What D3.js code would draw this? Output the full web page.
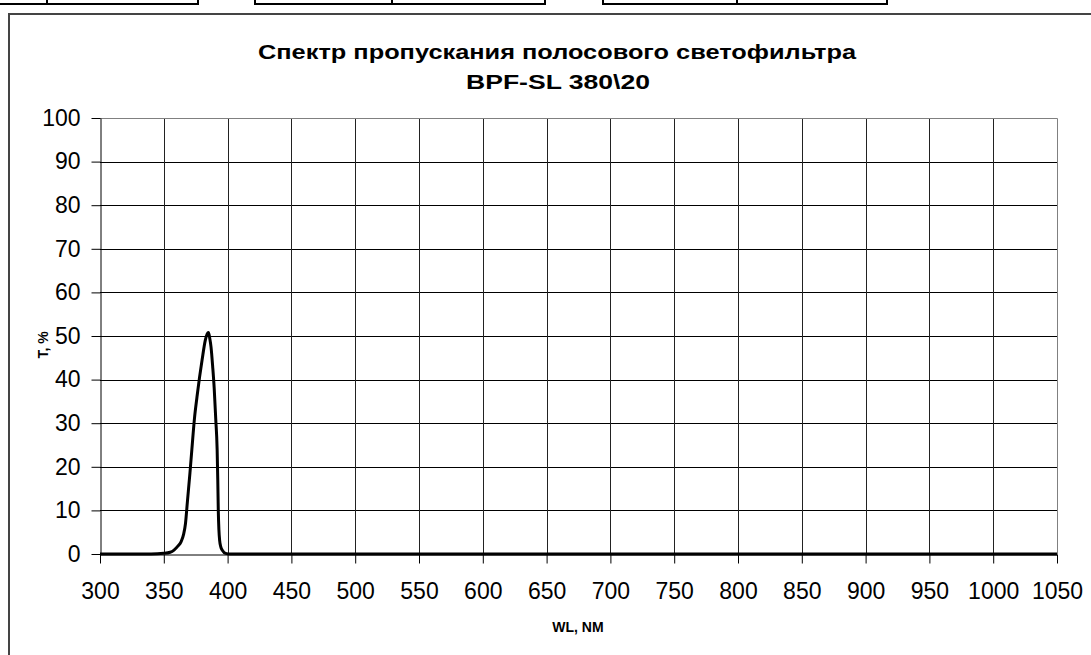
<!DOCTYPE html>
<html>
<head>
<meta charset="utf-8">
<script src="https://cdn.jsdelivr.net/npm/d3@7"></script>
<style>
body { margin: 0; background: #fff; }
text { font-family: "Liberation Sans", Arial, sans-serif; fill: #000; }
</style>
</head>
<body>
<script>
var W = 1091, H = 655;

// spectrum
var wavelengths = [300, 340, 350, 355, 358, 361, 363.5, 365.5, 367, 368.5, 370.5, 372, 374, 376, 378, 380, 382.5, 384, 385, 386, 387, 388.3, 389.5, 390.7, 391.8, 392.3, 392.7, 393.2, 393.8, 394.6, 396, 398.4, 402, 420, 500, 700, 900, 1050];
var transmission = [0, 0, 0.15, 0.4, 0.9, 1.8, 2.8, 4.5, 7, 12, 18.6, 24, 31, 36, 40.5, 44.5, 49, 50.5, 50.8, 49.5, 47.5, 43, 38, 31, 24, 17, 10, 5.5, 3, 1.7, 0.8, 0.15, 0, 0, 0, 0, 0, 0];
var xTicks = [300, 350, 400, 450, 500, 550, 600, 650, 700, 750, 800, 850, 900, 950, 1000, 1050];
var yTicks = [0, 10, 20, 30, 40, 50, 60, 70, 80, 90, 100];
var titleLines = ["Спектр пропускания полосового светофильтра", "BPF-SL 380\\20"];

var data = wavelengths.map(function(w, i) { return {wl: w, t: transmission[i]}; });

var pLeft = 100, pRight = 1057, pTop = 118, pBottom = 554;

var svg = d3.select("body").append("svg")
    .attr("width", W)
    .attr("height", H);

// cut-off spreadsheet cells above the chart
var cells = [[-2, 47, 198], [255, 392, 545], [603, 737, 887]];
cells.forEach(function(c) {
    svg.append("path")
        .attr("d", "M" + c[0] + ",-2V4H" + c[2] + "V-2M" + c[1] + ",-2V4")
        .attr("fill", "none")
        .attr("stroke", "#000")
        .attr("stroke-width", 2);
});

// chart area frame
svg.append("path")
    .attr("d", "M9," + H + "V14H" + W)
    .attr("fill", "none")
    .attr("stroke", "#444")
    .attr("stroke-width", 2);

var x = d3.scaleLinear().domain([300, 1050]).range([pLeft, pRight]);
var y = d3.scaleLinear().domain([0, 100]).range([pBottom, pTop]);

// grid
svg.append("g")
    .selectAll("line")
    .data(yTicks.slice(1, -1))
    .enter().append("line")
    .attr("x1", pLeft).attr("x2", pRight)
    .attr("y1", function(d) { return Math.round(y(d)) + 0.5; })
    .attr("y2", function(d) { return Math.round(y(d)) + 0.5; })
    .attr("stroke", "#000");

svg.append("g")
    .selectAll("line")
    .data(xTicks.slice(1, -1))
    .enter().append("line")
    .attr("y1", pTop).attr("y2", pBottom)
    .attr("x1", function(d) { return Math.round(x(d)) + 0.5; })
    .attr("x2", function(d) { return Math.round(x(d)) + 0.5; })
    .attr("stroke", "#222");

// plot border
svg.append("path")
    .attr("d", "M" + pLeft + "," + (pTop + 0.5) + "H" + (pRight + 0.5) + "V" + pBottom)
    .attr("fill", "none")
    .attr("stroke", "#808080");

// axes
var xAxis = svg.append("g")
    .attr("transform", "translate(0," + (pBottom + 0.5) + ")")
    .call(d3.axisBottom(x).tickValues(xTicks).tickFormat(d3.format("d"))
        .tickSize(9).tickPadding(19).tickSizeOuter(0));
var yAxis = svg.append("g")
    .attr("transform", "translate(" + (pLeft + 0.5) + ",0)")
    .call(d3.axisLeft(y).tickValues(yTicks).tickFormat(d3.format("d"))
        .tickSize(9).tickPadding(11).tickSizeOuter(0));

[xAxis, yAxis].forEach(function(a) {
    a.selectAll("path, line").attr("stroke", "#000");
    a.selectAll("text")
        .style("font-family", "'Liberation Sans', Arial, sans-serif")
        .style("font-size", "23px")
        .attr("fill", "#000");
});

// spectrum curve
var line = d3.line()
    .x(function(d) { return x(d.wl); })
    .y(function(d) { return y(d.t); })
    .curve(d3.curveMonotoneX);

svg.append("path")
    .datum(data)
    .attr("d", line)
    .attr("fill", "none")
    .attr("stroke", "#000")
    .attr("stroke-width", 3)
    .attr("stroke-linejoin", "round");

// titles
svg.append("text")
    .attr("x", 557)
    .attr("y", 59)
    .attr("text-anchor", "middle")
    .style("font-size", "21px")
    .style("font-weight", "bold")
    .attr("textLength", 598)
    .attr("lengthAdjust", "spacingAndGlyphs")
    .text(titleLines[0]);

svg.append("text")
    .attr("x", 558)
    .attr("y", 89)
    .attr("text-anchor", "middle")
    .style("font-size", "21px")
    .style("font-weight", "bold")
    .attr("textLength", 184)
    .attr("lengthAdjust", "spacingAndGlyphs")
    .text(titleLines[1]);

svg.append("text")
    .attr("transform", "translate(48,345) rotate(-90)")
    .attr("text-anchor", "middle")
    .style("font-size", "14px")
    .style("font-weight", "bold")
    .text("T, %");

svg.append("text")
    .attr("x", 578)
    .attr("y", 632)
    .attr("text-anchor", "middle")
    .style("font-size", "14px")
    .style("font-weight", "bold")
    .text("WL, NM");
</script>
</body>
</html>
